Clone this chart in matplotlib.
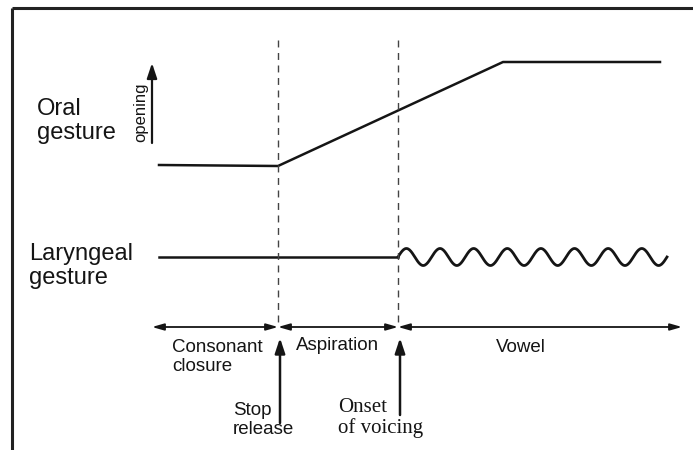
import matplotlib.pyplot as plt
import numpy as np

# diagram coordinates are in image pixels (y grows downward)
oral_x = [159, 278, 503, 660]
oral_y = [165, 166, 62, 62]
laryngeal_x = [159, 398]
laryngeal_y = [257, 257]

# voicing wave: start, end, number of cycles, amplitude
voicing_start = 398
voicing_end = 667
voicing_cycles = 8
voicing_amp = 8.5

boundaries = [278, 398]          # stop release, onset of voicing
phase_edges = [152, 278, 398, 682]
axis_y = 327

ink = "#151515"

fig = plt.figure(figsize=(6.93, 4.5), dpi=100)
ax = fig.add_axes([0, 0, 1, 1])
ax.set_xlim(0, 693)
ax.set_ylim(450, 0)
ax.axis("off")

# frame (top and left only, the scan is cut off elsewhere)
ax.plot([12, 693], [8, 8], color="#222222", lw=2.2, solid_capstyle="butt")
ax.plot([12, 12], [8, 450], color="#222222", lw=2.2, solid_capstyle="butt")

# oral gesture
ax.plot(oral_x, oral_y, color=ink, lw=1.8)

# laryngeal gesture: flat, then voicing
ax.plot(laryngeal_x, laryngeal_y, color=ink, lw=1.8)
wx = np.linspace(voicing_start, voicing_end, 400)
wy = laryngeal_y[-1] - voicing_amp * np.sin(2 * np.pi * voicing_cycles *
                                            (wx - voicing_start) / (voicing_end - voicing_start))
ax.plot(wx, wy, color=ink, lw=2.0)

# dashed boundary lines
for b in boundaries:
    ax.plot([b, b], [40, axis_y], color="#444444", lw=1.0, ls=(0, (5, 4)))

# time axis, one double arrow per phase
for a, b in zip(phase_edges[:-1], phase_edges[1:]):
    ax.annotate("", xy=(b, axis_y), xytext=(a, axis_y),
                arrowprops=dict(arrowstyle="<|-|>,head_length=0.7,head_width=0.2",
                                color=ink, lw=1.3, shrinkA=0, shrinkB=0))

# event arrows under the axis
for b, y0 in zip(boundaries, [423, 415]):
    ax.annotate("", xy=(b + 2, 338), xytext=(b + 2, y0),
                arrowprops=dict(arrowstyle="-|>,head_length=0.9,head_width=0.3",
                                color=ink, lw=1.8, shrinkA=0, shrinkB=0))

# opening arrow
ax.annotate("", xy=(152, 63), xytext=(152, 143),
            arrowprops=dict(arrowstyle="-|>,head_length=0.9,head_width=0.3",
                            color=ink, lw=1.6, shrinkA=0, shrinkB=0))
ax.text(141, 112, "opening", rotation=90, ha="center", va="center",
        fontsize=12, family="Liberation Sans", color=ink)

sans = dict(family="Liberation Sans", color=ink)
ax.text(37, 121, "Oral\ngesture", ha="left", va="center", fontsize=17,
        linespacing=1.12, **sans)
ax.text(29, 266, "Laryngeal\ngesture", ha="left", va="center", fontsize=17,
        linespacing=1.12, **sans)

ax.text(172, 357, "Consonant\nclosure", ha="left", va="center", fontsize=13.5,
        linespacing=1.18, **sans)
ax.text(296, 346, "Aspiration", ha="left", va="center", fontsize=13.5, **sans)
ax.text(521, 348, "Vowel", ha="center", va="center", fontsize=13.5, **sans)
ax.text(233, 420, "Stop\nrelease", ha="left", va="center", fontsize=13.5,
        linespacing=1.18, **sans)
ax.text(338, 418, "Onset\nof voicing", ha="left", va="center", fontsize=15,
        linespacing=1.08, family="Liberation Serif", color=ink)

fig.savefig("out.png", dpi=100, facecolor="white")
